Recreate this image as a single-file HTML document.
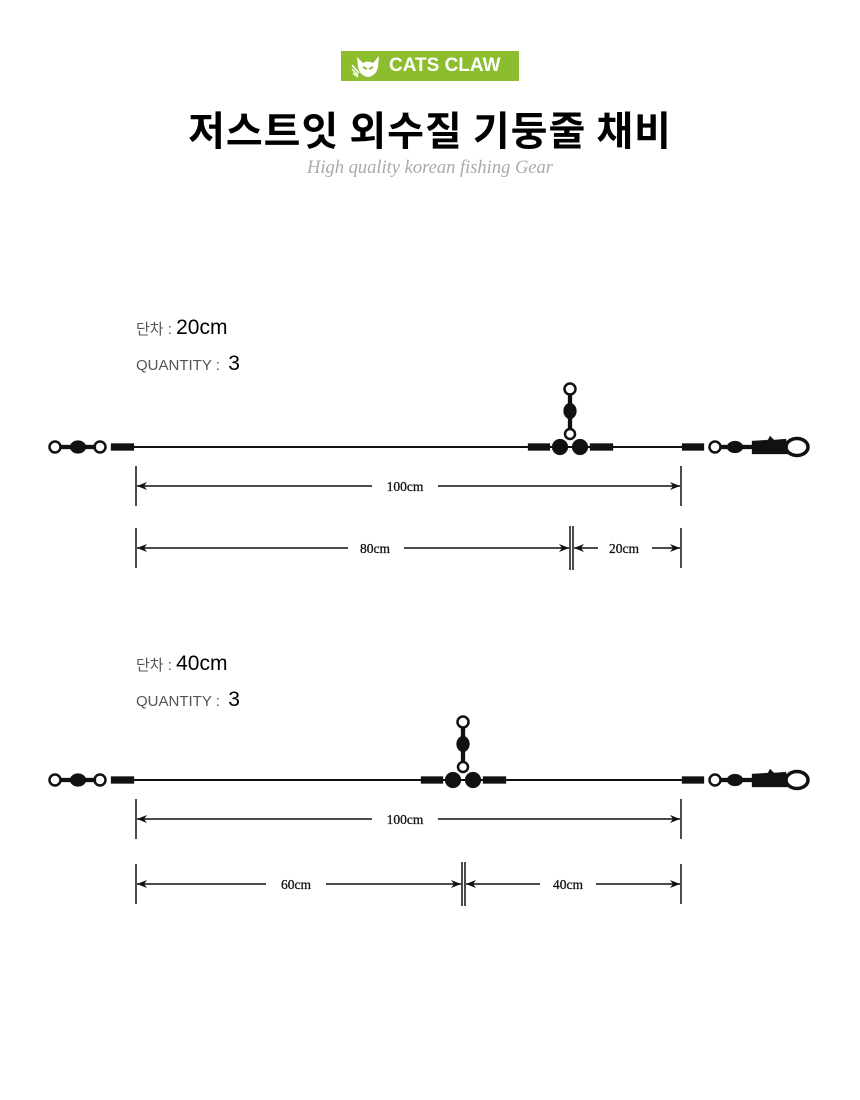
<!DOCTYPE html>
<html><head><meta charset="utf-8"><style>
html,body{margin:0;padding:0;background:#fff;}
body{width:860px;height:1100px;position:relative;overflow:hidden;font-family:"Liberation Sans","Noto Sans CJK KR",sans-serif;}
.t{position:absolute;white-space:nowrap;}
</style></head><body>
<div class="t" style="left:341px;top:51px;width:178px;height:30px;background:#8cbd2f;"></div>
<svg class="t" style="left:351px;top:53px" width="34" height="26" viewBox="0 0 34 26">
<path d="M6 4 L12 10 Q17 7 22 10 L28 3 L27 14 Q25 23 17 24 Q9 23 7 14 Z" fill="#fff"/>
<path d="M12 14 L16 16 M22 14 L18 16" stroke="#8cbd2f" stroke-width="2"/>
<path d="M1 12 L8 20 M1 16 L7 22 M2 20 L7 24" stroke="#fff" stroke-width="1.5"/>
</svg>
<div class="t" style="left:389px;top:55px;color:#fff;font-weight:bold;font-size:19px;">CATS CLAW</div>
<div class="t" style="left:0;width:860px;text-align:center;top:99px;font-size:40px;font-weight:bold;color:#000;font-family:'Noto Sans CJK KR',sans-serif;letter-spacing:1px;">저스트잇 외수질 기둥줄 채비</div>
<div class="t" style="left:0;width:860px;text-align:center;top:158px;font-size:18.5px;font-style:italic;color:#aaa;font-family:'Liberation Serif',serif;">High quality korean fishing Gear</div>

<div class="t" style="left:136px;top:316px;font-size:15px;color:#555;">단차 : <span style="font-size:21px;color:#000;">20cm</span></div>
<div class="t" style="left:136px;top:352px;font-size:15px;color:#555;">QUANTITY :&nbsp; <span style="font-size:21px;color:#000;">3</span></div>
<div class="t" style="left:136px;top:652px;font-size:15px;color:#555;">단차 : <span style="font-size:21px;color:#000;">40cm</span></div>
<div class="t" style="left:136px;top:688px;font-size:15px;color:#555;">QUANTITY :&nbsp; <span style="font-size:21px;color:#000;">3</span></div>

<svg class="t" style="left:0;top:0" width="860" height="1100">
<defs>
<marker id="a" viewBox="0 0 10 10" refX="10" refY="5" markerWidth="10" markerHeight="10" orient="auto-start-reverse" markerUnits="userSpaceOnUse">
<path d="M0 1 L10 5 L0 9 L3 5 Z" fill="#111"/></marker>
<g id="left">
<circle cx="55" cy="0" r="5.5" fill="none" stroke="#111" stroke-width="2.5"/>
<rect x="60" y="-2" width="36" height="4" fill="#111"/>
<ellipse cx="78" cy="0" rx="8" ry="6.5" fill="#111"/>
<circle cx="100" cy="0" r="5.5" fill="none" stroke="#111" stroke-width="2.5"/>
<rect x="111" y="-3.5" width="23" height="7" fill="#111"/>
</g>
<g id="right">
<rect x="682" y="-3.5" width="22" height="7" fill="#111"/>
<circle cx="715" cy="0" r="5.5" fill="none" stroke="#111" stroke-width="2.5"/>
<ellipse cx="735" cy="0" rx="8" ry="6" fill="#111"/>
<rect x="720" y="-2" width="34" height="4" fill="#111"/>
<path d="M752 -6 L768 -7 L770 -11 L774 -7 L786 -8 L788 7 L752 7 Z" fill="#111"/>
<ellipse cx="797" cy="0" rx="11" ry="8.5" fill="none" stroke="#111" stroke-width="3.5"/>
</g>
<g id="tee">
<rect x="-42" y="-3.5" width="22" height="7" fill="#111"/>
<rect x="20" y="-3.5" width="23" height="7" fill="#111"/>
<circle cx="-10" cy="0" r="8" fill="#111"/>
<circle cx="10" cy="0" r="8" fill="#111"/>
<rect x="-2" y="-58" width="4" height="46" fill="#111"/>
<circle cx="0" cy="-13" r="5" fill="#fff" stroke="#111" stroke-width="2.5"/>
<ellipse cx="0" cy="-36" rx="6.5" ry="8" fill="#111"/>
<circle cx="0" cy="-58" r="5.5" fill="#fff" stroke="#111" stroke-width="2.5"/>
</g>
</defs>
<g font-family="Liberation Serif,serif" font-size="13.5" fill="#111" text-anchor="middle" stroke="#111" stroke-width="0.3">
<line x1="130" y1="447" x2="690" y2="447" stroke="#111" stroke-width="2"/>
<use href="#left" y="447"/><use href="#right" y="447"/><use href="#tee" x="570" y="447"/>
<line x1="136" y1="466" x2="136" y2="506" stroke="#111" stroke-width="1.5"/>
<line x1="681" y1="466" x2="681" y2="506" stroke="#111" stroke-width="1.5"/>
<line x1="137" y1="486" x2="372" y2="486" stroke="#111" stroke-width="1.5" marker-start="url(#a)"/>
<line x1="438" y1="486" x2="680" y2="486" stroke="#111" stroke-width="1.5" marker-end="url(#a)"/>
<text x="405" y="491">100cm</text>
<line x1="136" y1="528" x2="136" y2="568" stroke="#111" stroke-width="1.5"/>
<line x1="570" y1="526" x2="570" y2="570" stroke="#111" stroke-width="1.5"/>
<line x1="573" y1="526" x2="573" y2="570" stroke="#111" stroke-width="1.5"/>
<line x1="681" y1="528" x2="681" y2="568" stroke="#111" stroke-width="1.5"/>
<line x1="137" y1="548" x2="348" y2="548" stroke="#111" stroke-width="1.5" marker-start="url(#a)"/>
<line x1="404" y1="548" x2="569" y2="548" stroke="#111" stroke-width="1.5" marker-end="url(#a)"/>
<text x="375" y="553">80cm</text>
<line x1="574" y1="548" x2="598" y2="548" stroke="#111" stroke-width="1.5" marker-start="url(#a)"/>
<line x1="652" y1="548" x2="680" y2="548" stroke="#111" stroke-width="1.5" marker-end="url(#a)"/>
<text x="624" y="553">20cm</text>
<line x1="130" y1="780" x2="690" y2="780" stroke="#111" stroke-width="2"/>
<use href="#left" y="780"/><use href="#right" y="780"/><use href="#tee" x="463" y="780"/>
<line x1="136" y1="799" x2="136" y2="839" stroke="#111" stroke-width="1.5"/>
<line x1="681" y1="799" x2="681" y2="839" stroke="#111" stroke-width="1.5"/>
<line x1="137" y1="819" x2="372" y2="819" stroke="#111" stroke-width="1.5" marker-start="url(#a)"/>
<line x1="438" y1="819" x2="680" y2="819" stroke="#111" stroke-width="1.5" marker-end="url(#a)"/>
<text x="405" y="824">100cm</text>
<line x1="136" y1="864" x2="136" y2="904" stroke="#111" stroke-width="1.5"/>
<line x1="462" y1="862" x2="462" y2="906" stroke="#111" stroke-width="1.5"/>
<line x1="465" y1="862" x2="465" y2="906" stroke="#111" stroke-width="1.5"/>
<line x1="681" y1="864" x2="681" y2="904" stroke="#111" stroke-width="1.5"/>
<line x1="137" y1="884" x2="266" y2="884" stroke="#111" stroke-width="1.5" marker-start="url(#a)"/>
<line x1="326" y1="884" x2="461" y2="884" stroke="#111" stroke-width="1.5" marker-end="url(#a)"/>
<text x="296" y="889">60cm</text>
<line x1="466" y1="884" x2="540" y2="884" stroke="#111" stroke-width="1.5" marker-start="url(#a)"/>
<line x1="596" y1="884" x2="680" y2="884" stroke="#111" stroke-width="1.5" marker-end="url(#a)"/>
<text x="568" y="889">40cm</text>
</g>
</svg>
</body></html>
